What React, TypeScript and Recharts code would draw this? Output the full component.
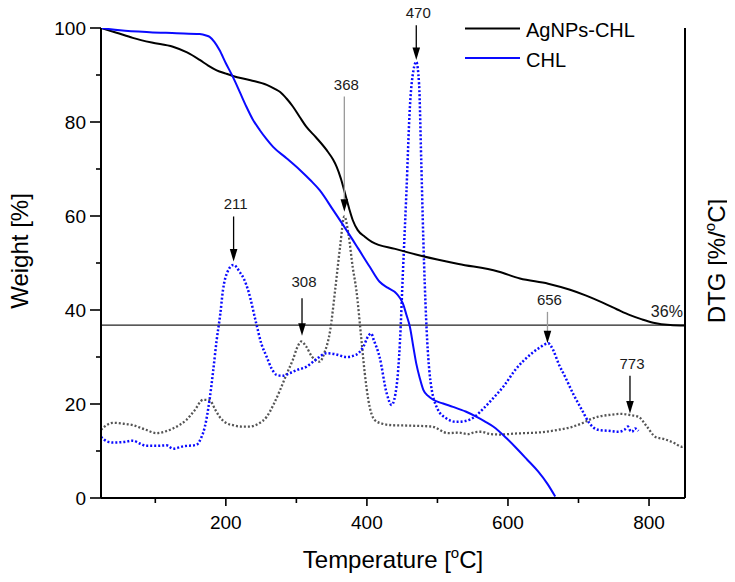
import React from 'react';
import { LineChart, Line, XAxis, YAxis, ReferenceLine, ReferenceDot, Legend, Label } from 'recharts';

// ---- data (temperature °C, value) ----
const tgAgNPs: [number, number][] = [
  [23, 100], [45, 99], [68, 97.9], [95, 96.9], [125, 96], [145, 94.8], [163, 93.2], [175, 92], [187, 91],
  [200, 90.3], [210, 89.8], [235, 88.9], [258, 87.9], [270, 87], [277, 86.4], [286, 85], [295, 83.3],
  [305, 81], [314, 79], [328, 76.7], [343, 74], [352, 72], [357, 70.5], [363, 68], [369, 64.8], [375, 61.5],
  [380, 59.1], [387, 57], [397, 55.6], [407, 54.5], [440, 53], [478, 51.5], [530, 49.8], [586, 48.2],
  [617, 46.7], [657, 45.6], [688, 44.3], [710, 43.1], [735, 41.5], [755, 40.1], [773, 38.9], [790, 38],
  [806, 37.3], [830, 36.8], [851, 36.7],
];

const tgCHL: [number, number][] = [
  [23, 100], [50, 99.5], [92, 99.1], [130, 98.9], [163, 98.7], [172, 98.4], [177, 98.1], [184, 97], [191, 95.3],
  [200, 92.5], [210, 89.6], [220, 86.3], [229, 83.3], [238, 80.6], [248, 78.3], [258, 76.3], [267, 74.7],
  [286, 72.3], [305, 69.8], [320, 67.6], [333, 65.5], [352, 61.3], [371, 57], [388, 53], [404, 49.2],
  [418, 46], [430, 44.7], [442, 43.5], [451, 41.4], [456, 39], [461, 36.4], [466, 32], [470, 28.6],
  [475, 25.5], [480, 23], [487, 21.7], [494, 20.9], [508, 20.1], [522, 19.4], [540, 18.4], [555, 17.3],
  [567, 16.3], [579, 15.2], [598, 12.7], [610, 10.9], [627, 8.2], [643, 5.6], [656, 3], [667, 0.3],
];

const dtgCHL: [number, number][] = [
  [23, 13], [32, 12], [40, 11.8], [55, 11.9], [68, 12.2], [78, 11.6], [87, 11.1], [100, 11.1], [116, 11.2],
  [125, 10.5], [140, 11], [158, 11.3], [165, 12.8], [170, 15], [177, 21], [182, 27], [187, 33.6], [192, 39],
  [196, 44.3], [202, 48], [211, 49.6], [220, 48], [226, 46.5], [232, 44], [243, 37.2], [250, 33], [258, 30],
  [265, 27.5], [272, 26.2], [280, 26], [291, 26.6], [302, 27.3], [314, 27.9], [328, 29.5], [343, 30.8],
  [355, 30.6], [371, 30], [385, 30.5], [395, 32.2], [402, 34.5], [406, 35], [410, 33.5], [418, 30],
  [428, 22.3], [435, 19.8], [442, 23.7], [447, 33.6], [451, 47.8], [456, 65], [461, 83.3], [466, 91],
  [470, 92.8], [474, 88], [477, 72], [480, 55], [484, 38], [490, 25], [500, 19], [512, 17], [527, 16.2],
  [540, 16.4], [553, 17.3], [565, 19], [577, 20.9], [595, 24], [610, 27.2], [622, 29.2], [634, 30.8],
  [645, 32], [657, 32.9], [664, 31.5], [672, 28.5], [681, 25.8], [693, 22], [705, 18.7], [716, 15.8],
  [728, 14.5], [742, 14.3], [756, 14.1], [765, 14.5], [770, 15.2], [773, 14.4], [776, 14.1], [780, 14.8],
  [785, 14.3],
];

const dtgAgNPs: [number, number][] = [
  [23, 14.5], [32, 15.6], [40, 16], [55, 15.8], [68, 15.5], [85, 14.6], [102, 13.8], [115, 14.2], [125, 14.8],
  [135, 15.6], [144, 16.6], [155, 18.5], [168, 20.9], [177, 20.8], [185, 18.8], [191, 17.3], [200, 16],
  [210, 15.5], [222, 15.2], [234, 15.2], [246, 15.8], [258, 17.3], [268, 20], [277, 23], [286, 26.3],
  [295, 29.4], [302, 32.3], [307, 33.3], [314, 32.2], [322, 30.1], [333, 29], [340, 31], [348, 35.7],
  [355, 44.3], [362, 53.5], [368, 59.9], [374, 56], [380, 49], [385, 44.3], [392, 34], [397, 26.5],
  [402, 20.9], [411, 16.6], [422, 15.8], [435, 15.5], [460, 15.4], [492, 15.2], [515, 13.8], [530, 13.9],
  [543, 13.6], [553, 14], [562, 14.1], [575, 13.6], [591, 13.5], [608, 13.7], [624, 13.8], [648, 14],
  [671, 14.5], [690, 15.1], [705, 15.9], [718, 16.8], [728, 17.3], [745, 17.7], [761, 17.9], [775, 17.6],
  [785, 17.3], [797, 15.2], [809, 13], [822, 12.5], [837, 11.6], [846, 10.9], [851, 11.2],
];

// peak annotations: temperature, label baseline, arrow start, arrow tip (data units)
const peakTemps = [211, 308, 368, 470, 656, 773];
const peakLabelY = [61.5, 44.9, 86.8, 102.2, 41, 27.4];
const peakFromY = [59.9, 42.5, 85.4, 100.6, 39.6, 26];
const peakTipY = [50.3, 34.5, 60.9, 93.2, 32.9, 18];
const peakGrey = [false, false, true, false, true, false];

const residueY = 36.8;
const residueLabel = { t: 848, y: 38.6, text: '36%' };

const xTicks = [100, 200, 300, 400, 500, 600, 700, 800];
const yTicks = [0, 10, 20, 30, 40, 50, 60, 70, 80, 90, 100];

const FONT = '"Liberation Sans", Arial, Helvetica, sans-serif';
const BLUE = '#0a0aff';

const rows = (arr: [number, number][]) => arr.map(([t, v]) => ({ t, v }));

const XTick = (props: any) => {
  const { x, y, payload } = props;
  const major = payload.value % 200 === 0;
  return (
    <g>
      <line x1={x} x2={x} y1={y} y2={y + (major ? 8 : 5)} stroke="#000" strokeWidth={1.6} />
      {major && (
        <text x={x} y={y + 31} textAnchor="middle" fontSize={19} fontFamily={FONT} fill="#000">
          {payload.value}
        </text>
      )}
    </g>
  );
};

const YTick = (props: any) => {
  const { x, y, payload } = props;
  const major = payload.value % 20 === 0;
  return (
    <g>
      <line x1={x - (major ? 11 : 5)} x2={x} y1={y} y2={y} stroke="#000" strokeWidth={1.6} />
      {major && (
        <text x={x - 15} y={y + 7} textAnchor="end" fontSize={19} fontFamily={FONT} fill="#000">
          {payload.value}
        </text>
      )}
    </g>
  );
};

const ArrowHead = (props: any) => {
  const { cx, cy } = props;
  if (cx == null || cy == null) return null;
  return <path d={`M${cx},${cy} L${cx - 3.8},${cy - 12.5} L${cx + 3.8},${cy - 12.5} Z`} fill="#000" />;
};

const makeText = (text: string, size: number, anchor: string, dx = 0) => (props: any) => {
  const { cx, cy } = props;
  if (cx == null || cy == null) return null;
  return (
    <text x={cx + dx} y={cy} textAnchor={anchor} fontSize={size} fontFamily={FONT} fill="#1a1a1a">
      {text}
    </text>
  );
};

const legendItems = [
  { name: 'AgNPs-CHL', color: '#000' },
  { name: 'CHL', color: BLUE },
];

const LegendBox = () => (
  <svg width={200} height={60} style={{ display: 'block' }}>
    {legendItems.map((it, i) => (
      <g key={it.name}>
        <line x1={0} x2={55} y1={8.5 + i * 29.5} y2={8.5 + i * 29.5} stroke={it.color} strokeWidth={2} />
        <text x={61} y={17 + i * 29.7} fontSize={20} fontFamily={FONT} fill="#000">
          {it.name}
        </text>
      </g>
    ))}
  </svg>
);

export default function App() {
  return (
    <div style={{ margin: -8, width: 735, height: 582 }}>
      <LineChart width={735} height={582} margin={{ top: 28, right: 10, left: 41, bottom: 44 }}>
        <XAxis
          dataKey="t"
          type="number"
          domain={[23, 851]}
          allowDataOverflow
          ticks={xTicks}
          interval={0}
          tickSize={0}
          tickMargin={0}
          tickLine={false}
          tick={<XTick />}
          height={40}
          axisLine={{ stroke: '#000', strokeWidth: 2 }}
        >
          <Label
            content={(p: any) => {
              const vb = p.viewBox || { x: 101, y: 498, width: 584 };
              const cx = vb.x + vb.width / 2;
              return (
                <text x={cx} y={vb.y + 70} textAnchor="middle" fontSize={24} fontFamily={FONT} fill="#000">
                  <tspan>Temperature [</tspan>
                  <tspan fontSize={15} dy={-10}>o</tspan>
                  <tspan dy={10}>C]</tspan>
                </text>
              );
            }}
          />
        </XAxis>
        <YAxis
          type="number"
          domain={[0, 100]}
          allowDataOverflow
          ticks={yTicks}
          interval={0}
          tickSize={0}
          tickMargin={0}
          tickLine={false}
          tick={<YTick />}
          width={60}
          axisLine={{ stroke: '#000', strokeWidth: 2 }}
        >
          <Label
            content={(p: any) => {
              const vb = p.viewBox || { x: 41, y: 28, height: 470 };
              const bx = vb.x - 13;
              const cy = vb.y + vb.height / 2 - 12;
              return (
                <text x={bx} y={cy} transform={`rotate(-90, ${bx}, ${cy})`} textAnchor="middle" fontSize={24} fontFamily={FONT} fill="#000">
                  Weight [%]
                </text>
              );
            }}
          />
        </YAxis>
        <YAxis
          yAxisId="right"
          orientation="right"
          type="number"
          domain={[0, 100]}
          tick={false}
          tickLine={false}
          width={40}
          axisLine={{ stroke: '#000', strokeWidth: 2 }}
        >
          <Label
            content={(p: any) => {
              const vb = p.viewBox || { x: 685, y: 28, height: 470 };
              const bx = vb.x + 40;
              const cy = vb.y + vb.height / 2 - 2;
              return (
                <text x={bx} y={cy} transform={`rotate(-90, ${bx}, ${cy})`} textAnchor="middle" fontSize={24} fontFamily={FONT} fill="#000">
                  <tspan>DTG [%/</tspan>
                  <tspan fontSize={15} dy={-10}>o</tspan>
                  <tspan dy={10}>C]</tspan>
                </text>
              );
            }}
          />
        </YAxis>

        <ReferenceLine y={residueY} stroke="#222" strokeWidth={1.3} ifOverflow="visible" />

        <Line data={rows(dtgAgNPs)} dataKey="v" type="monotone" stroke="#555" strokeWidth={2.3} strokeDasharray="2 2" dot={false} activeDot={false} isAnimationActive={false} />
        <Line data={rows(dtgCHL)} dataKey="v" type="monotone" stroke={BLUE} strokeWidth={2.5} strokeDasharray="2 2" dot={false} activeDot={false} isAnimationActive={false} />
        <Line data={rows(tgAgNPs)} dataKey="v" type="monotone" stroke="#000" strokeWidth={2} dot={false} activeDot={false} isAnimationActive={false} />
        <Line data={rows(tgCHL)} dataKey="v" type="monotone" stroke={BLUE} strokeWidth={2} dot={false} activeDot={false} isAnimationActive={false} />

        {peakTemps.map((t, i) => (
          <ReferenceLine
            key={`seg${t}`}
            segment={[{ x: t, y: peakFromY[i] }, { x: t, y: peakTipY[i] + 1.5 }]}
            stroke={peakGrey[i] ? '#9a9a9a' : '#000'}
            strokeWidth={1.3}
            ifOverflow="visible"
          />
        ))}
        {peakTemps.map((t, i) => (
          <ReferenceDot key={`head${t}`} x={t} y={peakTipY[i]} r={0} ifOverflow="visible" shape={<ArrowHead />} />
        ))}
        {peakTemps.map((t, i) => (
          <ReferenceDot key={`lab${t}`} x={t} y={peakLabelY[i]} r={0} ifOverflow="visible" shape={makeText(String(t), 15, 'middle', 2)} />
        ))}
        <ReferenceDot x={residueLabel.t} y={residueLabel.y} r={0} ifOverflow="visible" shape={makeText(residueLabel.text, 16, 'end')} />

        <Legend
          layout="vertical"
          align="center"
          verticalAlign="middle"
          wrapperStyle={{ position: 'absolute', top: 20, left: 465, width: 200, height: 60 }}
          content={() => <LegendBox />}
        />
      </LineChart>
    </div>
  );
}
